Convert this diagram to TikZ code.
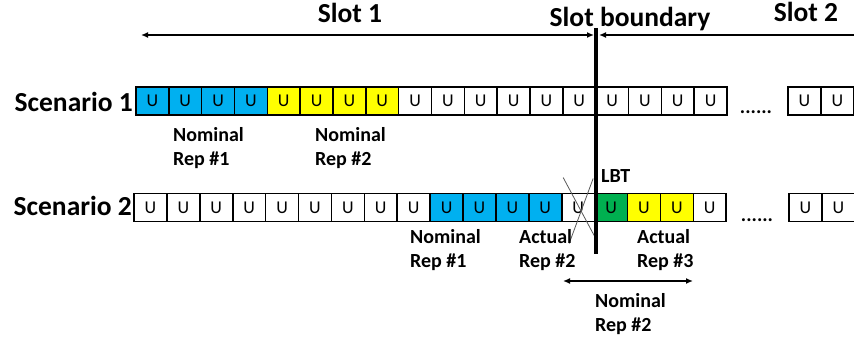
\documentclass[tikz,border=0pt]{standalone}
\usepackage{fontspec}
\setmainfont{Carlito}
\usetikzlibrary{arrows.meta,positioning,calc}
\definecolor{repblue}{HTML}{00B0F0}
\definecolor{repyellow}{HTML}{FFFF00}
\definecolor{lbtgreen}{HTML}{00B050}

\begin{document}
\begin{tikzpicture}[x=1pt,y=-1pt,
  cell/.style={draw,line width=1.5pt,minimum width=32.8pt,minimum height=28pt,inner sep=0pt,outer sep=0pt,font=\fontsize{18}{20}\selectfont},
  head/.style={font=\fontsize{27.5}{30}\selectfont\bfseries,inner sep=0pt},
  lbl/.style={font=\fontsize{20}{24}\selectfont\bfseries,align=left,anchor=north west,inner sep=0pt},
  dots/.style={font=\fontsize{20}{20}\selectfont\bfseries,inner sep=0pt,anchor=base},
  span/.style={{Latex[length=7pt,width=6pt]}-{Latex[length=7pt,width=6pt]},line width=1.5pt}]
\useasboundingbox (0,0) rectangle (854,339);

% slot headings and arrows
\node[head,anchor=base] (slot1) at (350,23) {Slot 1};
\node[head,anchor=base] (bound) at (630,27) {Slot boundary};
\node[head,anchor=base] (slot2) at (806,22) {Slot 2};
\coordinate (s1l) at (141,35);
\coordinate (s1r) at (594,35);
\coordinate (s2l) at (599,35);
\coordinate (s2r) at (856,35);
\draw[span] (s1l) -- (s1r);
\draw[{Latex[length=7pt,width=6pt]}-,line width=1.5pt] (s2l) -- (s2r);

% scenario 1
\node[head,anchor=base east] (sc1) at (133,112) {Scenario 1};
\foreach \c [count=\i] in {repblue,repblue,repblue,repblue,repyellow,repyellow,repyellow,repyellow,
  white,white,white,white,white,white,white,white,white,white}
  \node[cell,fill=\c] (a\i) at ({136+32.83*(\i-0.5)},101) {U};
\node[dots] (ad) at (756,114) {......};
\node[cell] (a19) at (804.5,101) {U};
\node[cell] (a20) at (837.5,101) {U};
\node[lbl] (nr1) at (173,127) {Nominal\\Rep \#1};
\node[lbl] (nr2) at (315,127) {Nominal\\Rep \#2};

% scenario 2
\node[head,anchor=base east] (sc2) at (132,216) {Scenario 2};
\foreach \c [count=\i] in {white,white,white,white,white,white,white,white,white,
  repblue,repblue,repblue,repblue,white,lbtgreen,repyellow,repyellow,white}
  \node[cell,fill=\c] (b\i) at ({134+32.9*(\i-0.5)},207.5) {U};
\node[dots] (bd) at (757,222) {......};
\node[cell] (b19) at (805.5,207.5) {U};
\node[cell] (b20) at (838.5,207.5) {U};

% crossed out symbol
\draw[black!65,line width=0.8pt] ([shift={(-15,-30)}]b14.center) -- ([shift={(16,28)}]b14.center);
\draw[black!65,line width=0.8pt] ([shift={(15,-29)}]b14.center) -- ([shift={(-9,36)}]b14.center);

\node[lbl] (snr1) at (410,229) {Nominal\\Rep \#1};
\node[lbl] (ar2) at (519,229) {Actual\\Rep \#2};
\node[lbl] (ar3) at (637,229) {Actual\\Rep \#3};
\node[font=\fontsize{20}{20}\selectfont\bfseries,inner sep=0pt,anchor=base west] (lbt) at (601,183) {LBT};

% slot boundary
\coordinate (bt) at (596,28);
\coordinate (bb) at (596,254);
\draw[line width=4pt] (bt) -- (bb);

% nominal rep 2 span
\coordinate (nl) at (563,281);
\coordinate (nr) at (693,281);
\draw[span] (nl) -- (nr);
\node[lbl] (bnr2) at (595,293) {Nominal\\Rep \#2};
\end{tikzpicture}
\end{document}
